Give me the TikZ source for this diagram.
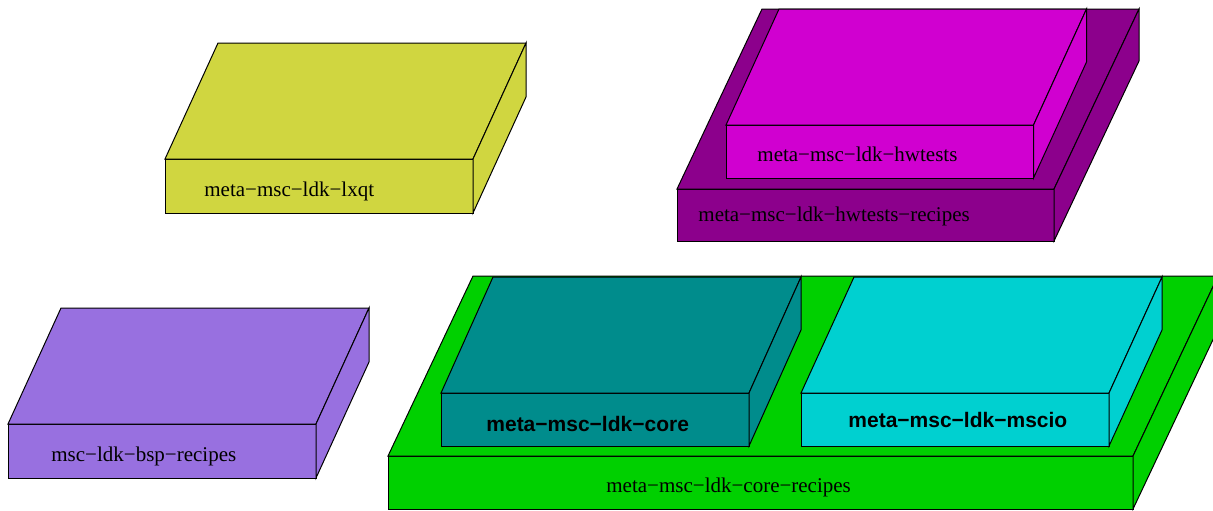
\documentclass[tikz,border=0pt]{standalone}
\usepackage{fontspec}
\setmainfont{Liberation Serif}
\newfontfamily\boldsans{Liberation Sans}
\definecolor{cyellow}{RGB}{208,214,64}
\definecolor{cpurple}{RGB}{152,112,224}
\definecolor{cmagenta}{RGB}{208,0,208}
\definecolor{cdarkmag}{RGB}{140,0,140}
\definecolor{cgreen}{RGB}{0,208,0}
\definecolor{cteal}{RGB}{0,140,140}
\definecolor{ccyan}{RGB}{0,208,208}
\tikzset{
  slabline/.style={draw=black, line width=0.5pt, line join=miter},
  lbl/.style={inner sep=0pt, anchor=base west, font=\fontsize{10.5pt}{12.6pt}\selectfont},
  blbl/.style={inner sep=0pt, anchor=base west, font=\fontsize{10.5pt}{12.6pt}\selectfont\boldsans\bfseries},
}
% #1 x, #2 y (front top-left), #3 width, #4 height, #5 dx, #6 dy, #7 colour
\newcommand\slab[7]{%
  \filldraw[slabline, fill=#7] (#1,#2) rectangle ++(#3,#4);
  \filldraw[slabline, fill=#7] (#1,#2) -- ++(#5,#6) -- ++(#3,0) -- (#1+#3,#2) -- cycle;
  \filldraw[slabline, fill=#7] (#1+#3,#2) -- ++(#5,#6) -- ++(0,#4) -- (#1+#3,#2+#4) -- cycle;
}
\begin{document}
\begin{tikzpicture}[x=0.5pt,y=-0.5pt]
\useasboundingbox (0,0) rectangle (1213,510);
\clip (0,0) rectangle (1213,510);
% lxqt
\slab{165}{159}{308}{54}{53}{-116}{cyellow}
\node[lbl] (lxqt) at (204,196) {meta−msc−ldk−lxqt};
% hwtests-recipes and hwtests
\slab{677}{189}{377}{52}{85}{-180}{cdarkmag}
\slab{726}{125}{307.5}{53}{53}{-116}{cmagenta}
\node[lbl] (hwtests) at (757,161) {meta−msc−ldk−hwtests};
\node[lbl] (hwrecipes) at (698,221) {meta−msc−ldk−hwtests−recipes};
% bsp
\slab{8}{424}{308}{54}{53}{-116}{cpurple}
\node[lbl] (bsp) at (51,461) {msc−ldk−bsp−recipes};
% core-recipes with core and mscio
\slab{388}{456}{745}{53}{85}{-180}{cgreen}
\slab{441}{393}{308}{53}{52}{-116}{cteal}
\slab{801}{393}{308}{53}{53}{-116}{ccyan}
\node[blbl] (core) at (486,431) {meta−msc−ldk−core};
\node[blbl] (mscio) at (848,427) {meta−msc−ldk−mscio};
\node[lbl] (corerecipes) at (606,492) {meta−msc−ldk−core−recipes};
\end{tikzpicture}
\end{document}
